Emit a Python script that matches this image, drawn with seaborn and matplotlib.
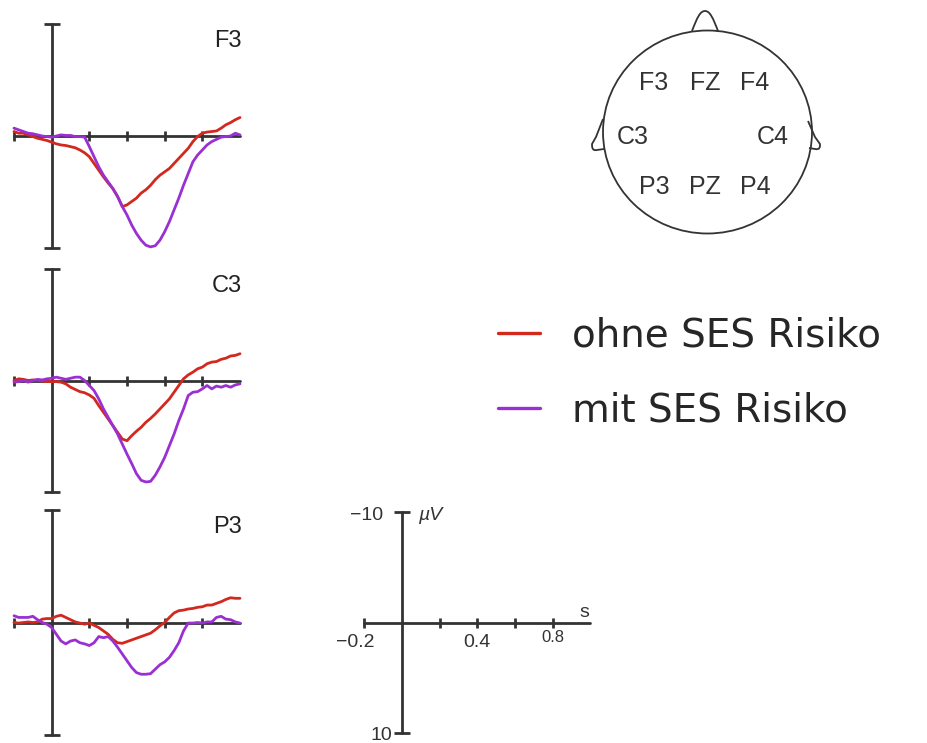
"""
ERP waveforms (F3, C3, P3) for children with and without SES risk,
with an electrode map, a legend and a scale axis.
"""
import numpy as np
import pandas as pd
from matplotlib import pyplot as plt
from matplotlib.patches import Ellipse, PathPatch
from matplotlib.path import Path
import seaborn as sns

# ---- data -----------------------------------------------------------------
# time in s, amplitude in µV (negative up)
time = np.round(np.arange(-0.2, 1.0001, 0.025), 3)

f3_ohne = [-0.4, -0.25, -0.25, -0.1, 0.05, 0.2, 0.3, 0.4, 0.55, 0.7, 0.8, 0.85,
           0.95, 1.05, 1.25, 1.5, 1.85, 2.45, 3.05, 3.65, 4.2, 4.7, 5.4, 6.3,
           6.15, 5.85, 5.55, 5.1, 4.8, 4.4, 3.9, 3.5, 3.2, 2.9, 2.45, 2.0, 1.55,
           1.1, 0.5, 0.05, -0.25, -0.35, -0.4, -0.45, -0.7, -1.0, -1.2, -1.45,
           -1.65]
f3_mit = [-0.7, -0.55, -0.4, -0.25, -0.2, -0.1, 0.0, 0.05, 0.1, 0.0, -0.1,
          -0.05, -0.05, 0.05, 0.05, 0.1, 0.95, 1.85, 2.75, 3.5, 4.1, 4.7, 5.4,
          6.3, 7.05, 7.95, 8.7, 9.3, 9.75, 9.9, 9.8, 9.3, 8.55, 7.65, 6.6, 5.55,
          4.4, 3.35, 2.3, 1.7, 1.25, 0.8, 0.5, 0.3, 0.1, 0.05, 0.0, -0.25, -0.1]

c3_ohne = [0.0, -0.15, -0.1, 0.0, -0.05, 0.0, 0.05, 0.1, 0.1, 0.1, 0.15, 0.3,
           0.6, 0.8, 1.0, 1.1, 1.3, 1.6, 2.25, 2.85, 3.45, 4.05, 4.65, 5.25,
           5.4, 4.95, 4.55, 4.2, 3.75, 3.4, 3.0, 2.55, 2.1, 1.65, 1.05, 0.45,
           -0.15, -0.5, -0.75, -1.05, -1.2, -1.5, -1.65, -1.7, -1.9, -2.0, -2.2,
           -2.25, -2.4]
c3_mit = [0.15, 0.1, 0.0, 0.15, 0.0, -0.1, -0.05, -0.15, -0.2, -0.3, -0.2,
          -0.1, -0.2, -0.3, -0.3, 0.0, 0.45, 0.9, 1.65, 2.55, 3.3, 4.05, 4.8,
          5.7, 6.6, 7.45, 8.35, 8.95, 9.1, 9.05, 8.5, 7.75, 6.9, 5.85, 4.8, 3.6,
          2.55, 1.35, 1.05, 1.0, 0.75, 0.45, 0.75, 0.5, 0.6, 0.45, 0.6, 0.4, 0.3]

p3_ohne = [0.0, 0.05, 0.0, -0.05, 0.0, -0.05, -0.3, -0.35, -0.35, -0.55, -0.65,
           -0.45, -0.25, -0.05, 0.05, 0.15, 0.05, 0.25, 0.45, 0.75, 1.05, 1.5,
           1.8, 1.85, 1.7, 1.55, 1.4, 1.25, 1.1, 0.95, 0.65, 0.3, 0.0, -0.45,
           -0.85, -1.05, -1.1, -1.2, -1.25, -1.35, -1.4, -1.55, -1.55, -1.7,
           -1.85, -2.05, -2.2, -2.15, -2.15]
p3_mit = [-0.6, -0.45, -0.45, -0.45, -0.55, -0.25, 0.0, 0.15, 0.45, 1.05, 1.65,
          1.9, 1.65, 1.55, 1.8, 1.9, 2.05, 1.8, 1.25, 1.35, 1.25, 1.65, 2.2,
          2.8, 3.4, 4.0, 4.45, 4.6, 4.6, 4.55, 4.15, 3.75, 3.5, 3.1, 2.5, 1.8,
          0.75, 0.05, 0.05, 0.0, 0.05, -0.05, -0.05, -0.45, -0.55, -0.3, -0.25,
          -0.05, 0.05]

channels = ["F3", "C3", "P3"]
groups = ["ohne SES Risiko", "mit SES Risiko"]
waves = {
    "F3": [f3_ohne, f3_mit],
    "C3": [c3_ohne, c3_mit],
    "P3": [p3_ohne, p3_mit],
}

x_ticks = [-0.2, 0.2, 0.4, 0.6, 0.8]
x_end = 1.0
y_lim = 10

electrode_rows = [["F3", "FZ", "F4"], ["C3", "", "C4"], ["P3", "PZ", "P4"]]

# ---- style ----------------------------------------------------------------
sns.set_style("white")
plt.rcParams["font.family"] = ["Liberation Sans", "DejaVu Sans"]

palette = {"ohne SES Risiko": "#d2281e", "mit SES Risiko": "#9b30d2"}
axis_color = "#333333"

W, H = 928, 743
fig = plt.figure(figsize=(W / 100, H / 100), dpi=100)


def px_axes(left, top, width, height):
    """Axes placed by pixel box (top-left origin)."""
    return fig.add_axes([left / W, 1 - (top + height) / H, width / W, height / H])


def draw_axis_cross(ax):
    ax.plot([x_ticks[0], x_end], [0, 0], color=axis_color, lw=2, zorder=1,
            clip_on=False)
    ax.plot([0, 0], [-y_lim, y_lim], color=axis_color, lw=2, zorder=1,
            clip_on=False)
    ax.plot(x_ticks, [0] * len(x_ticks), ls="none", marker="|", ms=7, mew=2,
            color=axis_color, zorder=1, clip_on=False)
    ax.plot([0, 0], [-y_lim, y_lim], ls="none", marker="_", ms=11, mew=2,
            color=axis_color, zorder=1, clip_on=False)
    ax.set_xlim(-0.2, 1.0)
    ax.set_ylim(y_lim, -y_lim)
    ax.axis("off")


# ---- waveform panels ------------------------------------------------------
panel_boxes = {"F3": (14, 24, 226, 224), "C3": (14, 269, 226, 223),
               "P3": (14, 510, 226, 225)}
handles, labels = None, None
for ch in channels:
    ax = px_axes(*panel_boxes[ch])
    draw_axis_cross(ax)
    df = pd.concat(
        [pd.DataFrame({"time": time, "uv": vals, "gruppe": g})
         for g, vals in zip(groups, waves[ch])]
    )
    sns.lineplot(data=df, x="time", y="uv", hue="gruppe", hue_order=groups,
                 palette=palette, lw=2, ax=ax, legend=(ch == "F3"), zorder=3)
    if ch == "F3":
        handles, labels = ax.get_legend_handles_labels()
        ax.get_legend().remove()
    for ln in ax.get_lines():
        ln.set_clip_on(False)
    ax.axis("off")
    ax.text(1.01, -8.5, ch, ha="right", va="center", fontsize=17,
            color="#222222")

# ---- scale axis -----------------------------------------------------------
sax = px_axes(364.3, 512, 226, 221)
draw_axis_cross(sax)
tx = dict(fontsize=14, color="#333333")
sax.text(-0.1, -9.7, "\u221210", ha="right", va="center", **tx)
sax.text(-0.05, 10.2, "10", ha="right", va="center", **tx)
sax.text(0.085, -9.7, "\u00b5V", ha="left", va="center", style="italic", **tx)
sax.text(-0.25, 1.8, "\u22120.2", ha="center", va="center", **tx)
sax.text(0.4, 1.8, "0.4", ha="center", va="center", **tx)
sax.text(0.8, 1.4, "0.8", ha="center", va="center", fontsize=12,
         color="#333333")
sax.text(0.97, -0.9, "s", ha="center", va="center", **tx)

# ---- electrode map --------------------------------------------------------
hax = px_axes(580, 0, 260, 245)
hax.set_xlim(580, 840)
hax.set_ylim(245, 0)
hax.axis("off")
head_lw = 1.3
hax.add_patch(Ellipse((707.5, 132), 209, 203, fill=False, lw=head_lw,
                      ec=axis_color))
C4 = Path.CURVE4
nose = Path([(692, 31), (697, 18), (700, 11), (705, 11),
             (710, 11), (713, 18), (718, 31)],
            [Path.MOVETO, C4, C4, C4, C4, C4, C4])
left_ear = Path([(603, 119), (596, 137), (592, 144), (592, 147),
                 (592, 151), (597, 150), (604, 149)],
                [Path.MOVETO, Path.LINETO, Path.LINETO, C4, C4, C4,
                 Path.LINETO])
right_ear = Path([(808, 121), (815, 137), (820, 144), (820, 147),
                  (820, 150), (815, 149), (809, 148)],
                 [Path.MOVETO, Path.LINETO, Path.LINETO, C4, C4, C4,
                  Path.LINETO])
for shape in (nose, left_ear, right_ear):
    hax.add_patch(PathPatch(shape, fill=False, lw=head_lw, ec=axis_color))
row_y = [83, 137, 187]
col_x = [[654, 705, 755], [633, 705, 773], [654, 705, 755]]
for names, y, xs in zip(electrode_rows, row_y, col_x):
    for name, x in zip(names, xs):
        hax.text(x, y, name, ha="center", va="center", fontsize=18,
                 color="#333333")

# ---- legend ---------------------------------------------------------------
leg = fig.legend(handles, labels, loc="upper left",
                 bbox_to_anchor=(498 / W, 1 - 317 / H), frameon=False,
                 handlelength=1.08, handletextpad=0.82,
                 labelspacing=0.94, borderpad=0, borderaxespad=0,
                 prop={"family": "DejaVu Sans", "size": 28})
for ln in leg.get_lines():
    ln.set_linewidth(2.4)

plt.savefig("out.png", dpi=100)
